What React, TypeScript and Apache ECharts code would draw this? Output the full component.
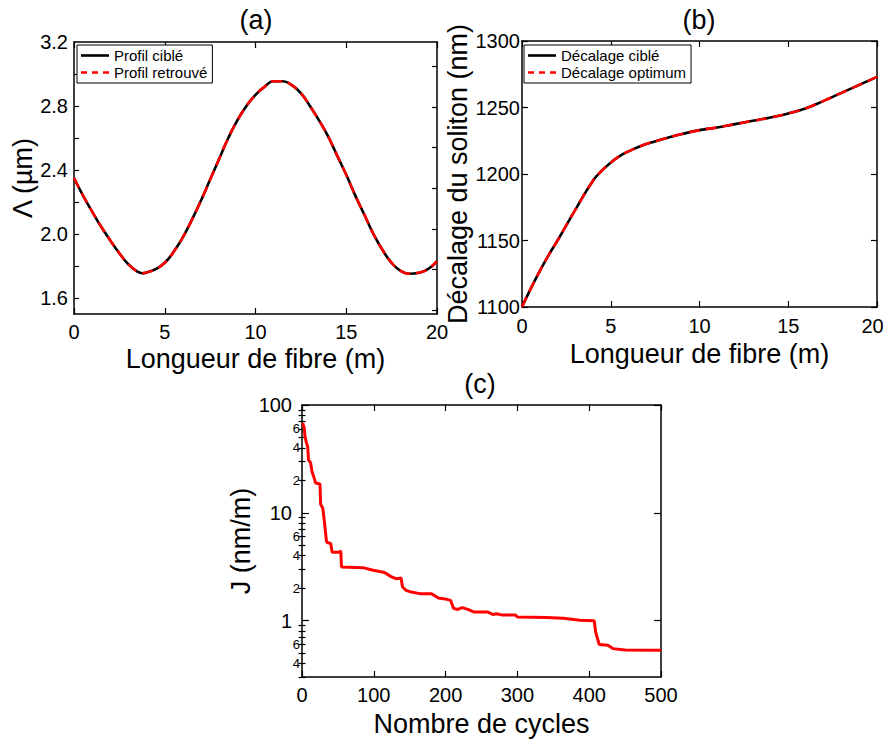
import React, { useEffect, useRef } from "react";
import * as echarts from "echarts";

const FONT = "'Liberation Sans', Arial, Helvetica, sans-serif";

// (a) grating period profile along the fibre (m -> µm)
const profileZ = [
  0, 0.5, 1, 1.5, 2, 2.5, 3, 3.5, 3.75, 4, 4.5, 5, 5.5, 6, 6.5, 7, 7.5, 8, 8.5, 9,
  9.5, 10, 10.5, 11, 11.5, 12, 12.5, 13, 13.5, 14, 14.5, 15, 15.5, 16, 16.5, 17,
  17.5, 18, 18.5, 19, 19.5, 20,
];
const profileTarget = [
  2.35, 2.24, 2.14, 2.045, 1.96, 1.88, 1.81, 1.765, 1.755, 1.76, 1.78, 1.82, 1.89,
  1.98, 2.09, 2.21, 2.34, 2.47, 2.6, 2.71, 2.8, 2.87, 2.92, 2.955, 2.955, 2.93,
  2.88, 2.8, 2.71, 2.61, 2.49, 2.37, 2.24, 2.12, 2.0, 1.9, 1.82, 1.77, 1.752,
  1.758, 1.78, 1.83,
];
const profileRetrieved = [
  2.35, 2.24, 2.14, 2.045, 1.96, 1.88, 1.81, 1.765, 1.755, 1.76, 1.78, 1.82, 1.89,
  1.98, 2.09, 2.21, 2.34, 2.47, 2.6, 2.71, 2.8, 2.87, 2.92, 2.955, 2.955, 2.93,
  2.88, 2.8, 2.71, 2.61, 2.49, 2.37, 2.24, 2.12, 2.0, 1.9, 1.82, 1.77, 1.752,
  1.758, 1.78, 1.83,
];
const profileLabelTicks = [1.6, 2.0, 2.4, 2.8, 3.2];
const profileMinorTicks = [1.6, 1.8, 2.0, 2.2, 2.4, 2.6, 2.8, 3.0];
const profileRightTicks = [1.525, 1.78, 2.03, 2.285, 2.54, 2.795, 3.05];

// (b) soliton self-frequency shift along the fibre (nm)
const shiftZ = [0, 0.5, 1, 1.5, 2, 3, 4, 4.5, 5, 5.5, 6, 7, 8, 9, 10, 11, 12, 13, 14, 15, 16, 17, 18, 19, 20];
const shiftTarget = [
  1100, 1114, 1127, 1139, 1150, 1173, 1195, 1202.5, 1208.5, 1213.5, 1217, 1222.5, 1226.5,
  1230, 1233, 1235, 1237.5, 1240, 1242.5, 1245.5, 1249.5, 1255, 1261, 1267, 1273,
];
const shiftOptimum = [
  1100, 1114, 1127, 1139, 1150, 1173, 1195, 1202.5, 1208.5, 1213.5, 1217, 1222.5, 1226.5,
  1230, 1233, 1235, 1237.5, 1240, 1242.5, 1245.5, 1249.5, 1255, 1261, 1267, 1273,
];

// (c) cost function versus optimisation cycle
const cycles = [
  1, 3, 4, 6, 8, 9, 12, 14, 16, 19, 25, 26, 29, 31, 34, 35, 40, 42, 52, 54, 55, 85,
  99, 115, 124, 131, 138, 140, 145, 152, 164, 180, 190, 199, 207, 211, 217, 223,
  231, 240, 259, 266, 271, 278, 297, 300, 340, 364, 387, 407, 409, 414, 426, 433,
  450, 500,
];
const costJ = [
  68, 62, 52, 45, 41, 31, 29, 24, 22, 18.9, 18.5, 12, 11, 8.5, 5.5, 5.3, 5.2, 4.3,
  4.3, 4.45, 3.15, 3.1, 2.93, 2.79, 2.56, 2.45, 2.48, 2.05, 1.91, 1.84, 1.78, 1.78,
  1.62, 1.59, 1.54, 1.3, 1.27, 1.32, 1.27, 1.2, 1.2, 1.14, 1.16, 1.13, 1.13, 1.08,
  1.07, 1.05, 1.01, 1.0, 0.78, 0.6, 0.59, 0.55, 0.535, 0.53,
];
const costMin = 0.3;
const costMax = 100;
const costLabelValues = [0.4, 0.6, 1, 2, 4, 6, 10, 20, 40, 60, 100];
const costMajorTicks = [1, 10, 100];
const costMinorTicks = [
  0.3, 0.4, 0.5, 0.6, 0.7, 0.8, 0.9, 2, 3, 4, 5, 6, 7, 8, 9, 20, 30, 40, 50, 60, 70, 80, 90,
];

// legend glyphs: a solid stroke and a three-dash stroke
const SOLID_ICON = "path://M0,0h28v2.6h-28z";
const DASH_ICON = "path://M0,0h6v2.6h-6zM11,0h6v2.6h-6zM22,0h6v2.6h-6z";
const DASH = [11, 6];

const log10 = (v: number) => Math.log10(v);

const axisLine = { show: true, onZero: false, lineStyle: { color: "#000", width: 1.5 } };
const tickStyle = { color: "#000", width: 1.2 };
const labelStyle = { color: "#000", fontSize: 20, fontFamily: FONT };
const nameStyle = { color: "#000", fontSize: 27, fontFamily: FONT };

function mirrorAxis(extra: any) {
  return {
    type: "value",
    axisLine,
    axisLabel: { show: false },
    splitLine: { show: false },
    ...extra,
  };
}

function legendBox(left: number, top: number, items: { name: string; icon: string }[]) {
  return {
    data: items,
    orient: "vertical",
    left,
    top,
    itemWidth: 28,
    itemHeight: 2.6,
    itemGap: 2,
    padding: [3, 5, 3, 4],
    borderColor: "#000",
    borderWidth: 1,
    borderRadius: 0,
    backgroundColor: "#fff",
    textStyle: { color: "#000", fontSize: 15, fontFamily: FONT },
    selectedMode: false,
  };
}

function buildOption() {
  const pair = (xs: number[], ys: number[]) => xs.map((x, i) => [x, ys[i]]);
  const costData = cycles.map((n, i) => [n, log10(costJ[i])]);
  const logMin = log10(costMin);
  const logMax = log10(costMax);

  const costFormatter = (v: number) => {
    const r = Math.pow(10, v);
    const e = Math.floor(v + 1e-9);
    const lead = Math.round(r / Math.pow(10, e));
    if (lead === 1) return "{maj|" + Math.round(r) + "}";
    return "{min|" + lead + "}";
  };

  const titleText = (text: string, x: number, y: number) => ({
    type: "text",
    x,
    y,
    style: { text, fill: "#000", font: `27px ${FONT}`, textAlign: "center", textVerticalAlign: "middle" },
  });

  return {
    animation: false,
    backgroundColor: "#fff",
    textStyle: { fontFamily: FONT },
    graphic: [titleText("(a)", 256, 20), titleText("(b)", 699, 20), titleText("(c)", 480, 384)],
    grid: [
      { left: 74, top: 42, width: 363, height: 272, outerBoundsMode: "none" },
      { left: 522, top: 41, width: 355, height: 266, outerBoundsMode: "none" },
      { left: 302, top: 405, width: 359, height: 272, outerBoundsMode: "none" },
    ],
    legend: [
      legendBox(77, 45, [
        { name: "Profil ciblé", icon: SOLID_ICON },
        { name: "Profil retrouvé", icon: DASH_ICON },
      ]),
      legendBox(524, 45, [
        { name: "Décalage ciblé", icon: SOLID_ICON },
        { name: "Décalage optimum", icon: DASH_ICON },
      ]),
    ],
    xAxis: [
      {
        gridIndex: 0, type: "value", position: "bottom", min: 0, max: 20, interval: 5,
        axisLine, axisTick: { inside: true, length: 6, lineStyle: tickStyle },
        axisLabel: { ...labelStyle, margin: 8 }, splitLine: { show: false },
        name: "Longueur de fibre (m)", nameLocation: "middle", nameGap: 31, nameTextStyle: nameStyle,
      },
      mirrorAxis({ gridIndex: 0, position: "top", min: 0, max: 20, interval: 5, axisTick: { inside: true, length: 6, lineStyle: tickStyle } }),
      {
        gridIndex: 1, type: "value", position: "bottom", min: 0, max: 20, interval: 5,
        axisLine, axisTick: { inside: true, length: 6, lineStyle: tickStyle },
        axisLabel: {
          ...labelStyle, margin: 9,
          formatter: (v: number) => (v === 20 ? "{edge|20}" : String(v)),
          rich: { edge: { fontSize: 20, color: "#000", fontFamily: FONT, padding: [0, 9, 0, 0] } },
        },
        splitLine: { show: false },
        name: "Longueur de fibre (m)", nameLocation: "middle", nameGap: 33, nameTextStyle: nameStyle,
      },
      mirrorAxis({ gridIndex: 1, position: "top", min: 0, max: 20, interval: 5, axisTick: { inside: true, length: 6, lineStyle: tickStyle } }),
      {
        gridIndex: 2, type: "value", position: "bottom", min: 0, max: 500, interval: 100,
        axisLine, axisTick: { inside: true, length: 6, lineStyle: tickStyle },
        axisLabel: { ...labelStyle, margin: 8 }, splitLine: { show: false },
        name: "Nombre de cycles", nameLocation: "middle", nameGap: 33, nameTextStyle: nameStyle,
      },
      mirrorAxis({ gridIndex: 2, position: "top", min: 0, max: 500, interval: 100, axisTick: { inside: true, length: 6, lineStyle: tickStyle } }),
    ],
    yAxis: [
      {
        gridIndex: 0, type: "value", position: "left", min: 1.5, max: 3.2,
        axisLine,
        axisTick: { inside: true, length: 5, lineStyle: tickStyle, customValues: profileMinorTicks },
        axisLabel: { ...labelStyle, margin: 6, customValues: profileLabelTicks, formatter: (v: number) => v.toFixed(1) },
        splitLine: { show: false },
        name: "Λ (µm)", nameLocation: "middle", nameGap: 34, nameTextStyle: nameStyle,
      },
      mirrorAxis({ gridIndex: 0, position: "right", min: 1.5, max: 3.2, axisTick: { inside: true, length: 5, lineStyle: tickStyle, customValues: profileRightTicks } }),
      {
        gridIndex: 1, type: "value", position: "left", min: 1100, max: 1300, interval: 50,
        axisLine,
        axisTick: { inside: true, length: 6, lineStyle: tickStyle },
        axisLabel: { ...labelStyle, margin: 2, formatter: (v: number) => String(v) },
        splitLine: { show: false },
        name: "Décalage du soliton (nm)", nameLocation: "middle", nameGap: 48, nameTextStyle: nameStyle,
      },
      mirrorAxis({ gridIndex: 1, position: "right", min: 1100, max: 1300, interval: 50, axisTick: { inside: true, length: 6, lineStyle: tickStyle } }),
      {
        gridIndex: 2, type: "value", position: "left", min: logMin, max: logMax,
        axisLine,
        axisTick: { inside: true, length: 7, lineStyle: tickStyle, customValues: costMajorTicks.map(log10) },
        axisLabel: {
          color: "#000", fontFamily: FONT, margin: 2,
          customValues: costLabelValues.map(log10),
          formatter: costFormatter,
          rich: {
            maj: { fontSize: 20, color: "#000", fontFamily: FONT, padding: [0, 8, 0, 0] },
            min: { fontSize: 13, color: "#000", fontFamily: FONT },
          },
        },
        splitLine: { show: false },
        name: "J (nm/m)", nameLocation: "middle", nameGap: 40, nameTextStyle: nameStyle,
      },
      mirrorAxis({ gridIndex: 2, position: "left", min: logMin, max: logMax, axisLine: { show: false }, axisTick: { inside: true, length: 3.5, lineStyle: tickStyle, customValues: costMinorTicks.map(log10) } }),
      mirrorAxis({ gridIndex: 2, position: "right", min: logMin, max: logMax, axisTick: { inside: true, length: 7, lineStyle: tickStyle, customValues: costMajorTicks.map(log10) } }),
      mirrorAxis({ gridIndex: 2, position: "right", min: logMin, max: logMax, axisLine: { show: false }, axisTick: { inside: true, length: 3.5, lineStyle: tickStyle, customValues: costMinorTicks.map(log10) } }),
    ],
    series: [
      {
        name: "Profil ciblé", type: "line", xAxisIndex: 0, yAxisIndex: 0,
        data: pair(profileZ, profileTarget), smooth: 0.5, symbol: "none",
        lineStyle: { color: "#000", width: 2.6 }, itemStyle: { color: "#000" },
      },
      {
        name: "Profil retrouvé", type: "line", xAxisIndex: 0, yAxisIndex: 0,
        data: pair(profileZ, profileRetrieved), smooth: 0.5, symbol: "none",
        lineStyle: { color: "#ff0000", width: 2.6, type: DASH }, itemStyle: { color: "#ff0000" },
      },
      {
        name: "Décalage ciblé", type: "line", xAxisIndex: 2, yAxisIndex: 2,
        data: pair(shiftZ, shiftTarget), smooth: 0.5, symbol: "none",
        lineStyle: { color: "#000", width: 2.6 }, itemStyle: { color: "#000" },
      },
      {
        name: "Décalage optimum", type: "line", xAxisIndex: 2, yAxisIndex: 2,
        data: pair(shiftZ, shiftOptimum), smooth: 0.5, symbol: "none",
        lineStyle: { color: "#ff0000", width: 2.6, type: DASH }, itemStyle: { color: "#ff0000" },
      },
      {
        name: "J", type: "line", xAxisIndex: 4, yAxisIndex: 4,
        data: costData, symbol: "none",
        lineStyle: { color: "#ff0000", width: 3 }, itemStyle: { color: "#ff0000" },
      },
    ],
  };
}

export default function App() {
  const ref = useRef<HTMLDivElement>(null);
  useEffect(() => {
    if (!ref.current) return;
    const chart = echarts.init(ref.current, null, { renderer: "svg" });
    chart.setOption(buildOption() as any);
    return () => chart.dispose();
  }, []);
  return (
    <div
      ref={ref}
      style={{ position: "absolute", left: 0, top: 0, width: 885, height: 740, background: "#fff" }}
    />
  );
}
